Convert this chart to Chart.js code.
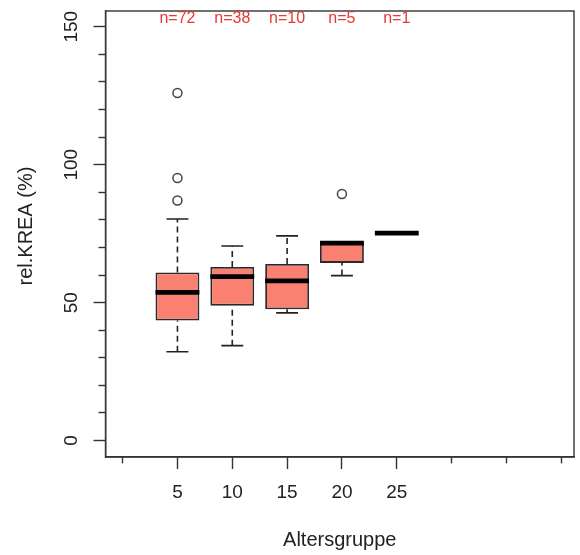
<!DOCTYPE html>
<html>
<head>
<meta charset="utf-8">
<script src="https://cdn.jsdelivr.net/npm/chart.js@4/dist/chart.umd.min.js"></script>
<style>
html,body{margin:0;padding:0;background:#fff;}
#wrap{width:580px;height:555px;}
</style>
</head>
<body>
<div id="wrap"><canvas id="c" width="580" height="555"></canvas></div>
<script>
// ---- data ----
const groups       = [5, 10, 15, 20, 25];
const counts       = [72, 38, 10, 5, 1];
const whiskerLow   = [32.2, 34.4, 46.3, 59.8, 75.2];
const q1           = [43.5, 48.9, 47.6, 64.4, 75.2];
const medians      = [53.7, 59.4, 57.9, 71.6, 75.2];
const q3           = [60.9, 62.9, 64.0, 72.0, 75.2];
const whiskerHigh  = [80.3, 70.5, 74.2, 72.0, 75.2];
const outliers     = [[126.0, 95.2, 87.0], [], [], [89.4], []];
const xTicks       = [0, 5, 10, 15, 20, 25, 30, 35, 40];
const xLabels      = [5, 10, 15, 20, 25];
const yTicks       = [0,10,20,30,40,50,60,70,80,90,100,110,120,130,140,150];
const yLabels      = [0, 50, 100, 150];
const xTitle = 'Altersgruppe';
const yTitle = 'rel.KREA (%)';

const FONT = '"Liberation Sans", Arial, Helvetica, sans-serif';
Chart.defaults.font.family = FONT;

const BOX_HALF = 2, CAP_HALF = 1;

// build datasets
const boxData = groups.map((g, i) => ({x: g, y: q1[i] < q3[i] ? [q1[i], q3[i]] : null}));
const whiskerData = [];
const capData = [];
const medianData = [];
const outlierData = [];
groups.forEach((g, i) => {
  if (whiskerLow[i] < q1[i]) {
    whiskerData.push({x: g, y: whiskerLow[i]}, {x: g, y: q1[i]}, {x: g, y: null});
    capData.push({x: g - CAP_HALF, y: whiskerLow[i]}, {x: g + CAP_HALF, y: whiskerLow[i]}, {x: g, y: null});
  }
  if (whiskerHigh[i] > q3[i]) {
    whiskerData.push({x: g, y: q3[i]}, {x: g, y: whiskerHigh[i]}, {x: g, y: null});
    capData.push({x: g - CAP_HALF, y: whiskerHigh[i]}, {x: g + CAP_HALF, y: whiskerHigh[i]}, {x: g, y: null});
  }
  medianData.push({x: g - BOX_HALF, y: medians[i]}, {x: g + BOX_HALF, y: medians[i]}, {x: g, y: null});
  outliers[i].forEach(v => outlierData.push({x: g, y: v}));
});

const annot = {
  id: 'annot',
  afterDraw(chart) {
    const {ctx, chartArea: a, scales: {x, y}} = chart;
    ctx.save();
    ctx.strokeStyle = '#333';
    ctx.lineWidth = 1.4;
    ctx.strokeRect(a.left, a.top, a.right - a.left, a.bottom - a.top);
    // n= labels
    ctx.fillStyle = '#e53935';
    ctx.font = '16px ' + FONT;
    ctx.textAlign = 'center';
    ctx.textBaseline = 'alphabetic';
    groups.forEach((g, i) => ctx.fillText('n=' + counts[i], x.getPixelForValue(g), a.top + 11.7));
    // y tick labels, rotated
    ctx.fillStyle = '#222';
    ctx.font = '19px ' + FONT;
    ctx.textBaseline = 'middle';
    yLabels.forEach(v => {
      const py = y.getPixelForValue(v);
      ctx.save();
      ctx.translate(y.right - 34, py);
      ctx.rotate(-Math.PI / 2);
      ctx.fillText(String(v), 0, 0);
      ctx.restore();
    });
    // y title
    ctx.font = '20px ' + FONT;
    ctx.save();
    ctx.translate(26, 226);
    ctx.rotate(-Math.PI / 2);
    ctx.fillText(yTitle, 0, 0);
    ctx.restore();
    ctx.restore();
  }
};

new Chart(document.getElementById('c'), {
  type: 'bar',
  data: {
    datasets: [
      {
        type: 'bar', data: boxData, order: 3,
        backgroundColor: '#FA8072', borderColor: '#2a2a2a', borderWidth: 1.8,
        borderSkipped: false, categoryPercentage: 1, barPercentage: 0.8
      },
      {
        type: 'line', data: whiskerData, order: 4, borderColor: '#222', borderWidth: 1.6,
        borderDash: [6, 4], pointRadius: 0, spanGaps: false, fill: false, tension: 0
      },
      {
        type: 'line', data: capData, order: 2, borderColor: '#222', borderWidth: 1.6,
        pointRadius: 0, spanGaps: false, fill: false, tension: 0
      },
      {
        type: 'line', data: medianData, order: 1, borderColor: '#000', borderWidth: 4.8,
        borderCapStyle: 'butt', pointRadius: 0, spanGaps: false, fill: false, tension: 0
      },
      {
        type: 'scatter', data: outlierData, order: 0, showLine: false,
        pointStyle: 'circle', pointRadius: 4.5, backgroundColor: 'rgba(0,0,0,0)',
        borderColor: '#444', pointBorderWidth: 1.5, borderWidth: 1.5
      }
    ]
  },
  options: {
    responsive: false,
    animation: false,
    devicePixelRatio: 1,
    layout: {padding: {top: 11, right: 4.5, left: 0, bottom: 0}},
    plugins: {legend: {display: false}, tooltip: {enabled: false}},
    scales: {
      x: {
        type: 'linear', min: -1.56, max: 41.16, offset: false,
        afterBuildTicks: s => { s.ticks = xTicks.map(v => ({value: v})); },
        afterFit: s => { s.height = 98; },
        ticks: {
          autoSkip: false, maxRotation: 0, minRotation: 0, padding: 12,
          color: '#222', font: {size: 19},
          callback: v => xLabels.includes(v) ? String(v) : ''
        },
        grid: {
          drawOnChartArea: false, offset: false, tickLength: 12, tickWidth: 1.4, tickColor: '#333',
          tickBorderDash: ctx => (ctx.tick && xLabels.includes(ctx.tick.value)) ? [] : [6, 100]
        },
        border: {display: true, color: '#333', width: 1.4},
        title: {display: true, text: xTitle, color: '#222', font: {size: 20}, padding: {top: 0, bottom: 3}}
      },
      y: {
        type: 'linear', min: -5.95, max: 155.7,
        afterBuildTicks: s => { s.ticks = yTicks.map(v => ({value: v})); },
        afterFit: s => { s.width = 105.5; },
        ticks: {display: true, callback: () => '', padding: 0},
        grid: {
          drawOnChartArea: false, tickLength: 12, tickWidth: 1.4, tickColor: '#333',
          tickBorderDash: ctx => (ctx.tick && yLabels.includes(ctx.tick.value)) ? [] : [7, 5],
          tickBorderDashOffset: ctx => (ctx.tick && yLabels.includes(ctx.tick.value)) ? 0 : 7
        },
        border: {display: true, color: '#333', width: 1.4}
      }
    }
  },
  plugins: [annot]
});
</script>
</body>
</html>
